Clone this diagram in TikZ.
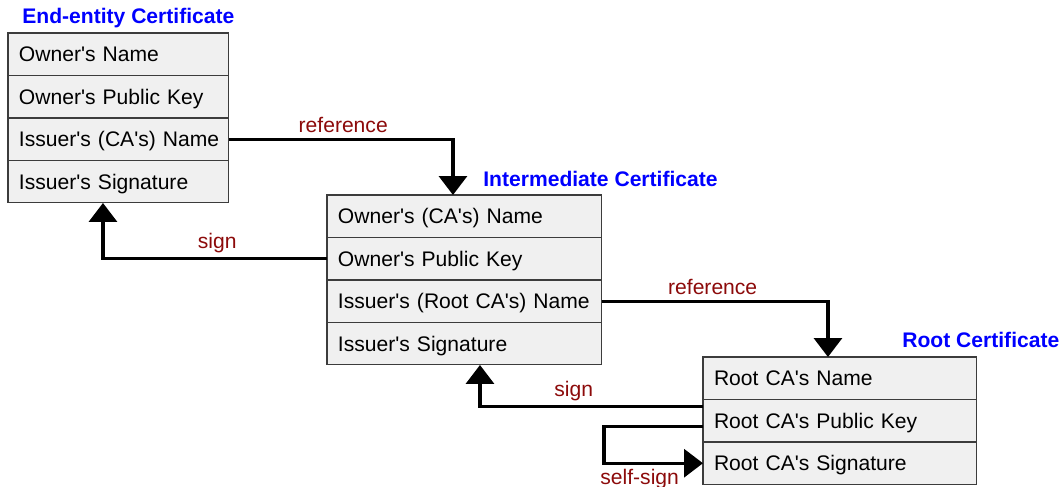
\documentclass[tikz,border=0pt]{standalone}
\usepackage{fontspec}
\setmainfont{Liberation Sans}[Ligatures=TeXOff]
\usetikzlibrary{positioning,arrows.meta,calc}
\definecolor{certblue}{RGB}{0,0,255}
\definecolor{linkred}{RGB}{140,10,10}
\definecolor{fieldgray}{RGB}{240,240,240}
\definecolor{edgegray}{RGB}{60,60,60}

\tikzset{
    field/.style={draw=edgegray,line width=0.6pt,fill=fieldgray,text width=#1,align=left,
        inner xsep=0pt,minimum height=0.85cm,outer sep=0pt,text height=0.39cm,text depth=0.09cm,
        execute at begin node={\hspace*{0.22cm}},font=\fontsize{12}{14}\selectfont},
    certtitle/.style={anchor=west,inner sep=0pt,text=certblue,font=\fontsize{12}{14}\selectfont\bfseries},
    link/.style={line width=1.9pt,-{Triangle[width=0.56cm,length=0.38cm]}},
    tag/.style={text=linkred,inner sep=2.5pt,font=\fontsize{12}{14}\selectfont}
}

\begin{document}
\begin{tikzpicture}[x=0.02cm,y=-0.02cm]
    \useasboundingbox (0,0) rectangle (1063,487);

    % End-entity certificate
    \node[certtitle] (eetitle) at (22,18) {End-entity Certificate};
    \node[field=4.42cm,anchor=north west] (ee1) at (8,33) {Owner's Name};
    \node[field=4.42cm,below=0pt of ee1] (ee2) {Owner's Public Key};
    \node[field=4.42cm,below=0pt of ee2] (ee3) {Issuer's (CA's) Name};
    \node[field=4.42cm,below=0pt of ee3] (ee4) {Issuer's Signature};

    % Intermediate certificate
    \node[certtitle] (imtitle) at (483,179) {Intermediate Certificate};
    \node[field=5.5cm,anchor=north west] (im1) at (327,195) {Owner's (CA's) Name};
    \node[field=5.5cm,below=0pt of im1] (im2) {Owner's Public Key};
    \node[field=5.5cm,below=0pt of im2] (im3) {Issuer's (Root CA's) Name};
    \node[field=5.5cm,below=0pt of im3] (im4) {Issuer's Signature};

    % Root certificate
    \node[certtitle] (rttitle) at (902,340) {Root Certificate};
    \node[field=5.48cm,anchor=north west] (rt1) at (703,357) {Root CA's Name};
    \node[field=5.48cm,below=0pt of rt1] (rt2) {Root CA's Public Key};
    \node[field=5.48cm,below=0pt of rt2] (rt3) {Root CA's Signature};

    % references and signatures
    \draw[link] (ee3.east) -| node[tag,pos=0.255,above] {reference} ($(im1.north)+(-11.5,0)$);
    \draw[link] (im2.west) -| node[tag,pos=0.245,above] {sign} ($(ee4.south)+(-15.5,0)$);
    \draw[link] (im3.east) -| node[tag,pos=0.245,above] {reference} ($(rt1.north)+(-12,0)$);
    \draw[link] ($(rt2.west)+(0,-14)$) -| node[tag,pos=0.29,above] {sign} ($(im4.south)+(15.5,0)$);
    \draw[link] ($(rt2.west)+(0,6)$) -- ++(-99,0) |- node[tag,pos=0.68,below] {self-sign} (rt3.west);
\end{tikzpicture}
\end{document}
